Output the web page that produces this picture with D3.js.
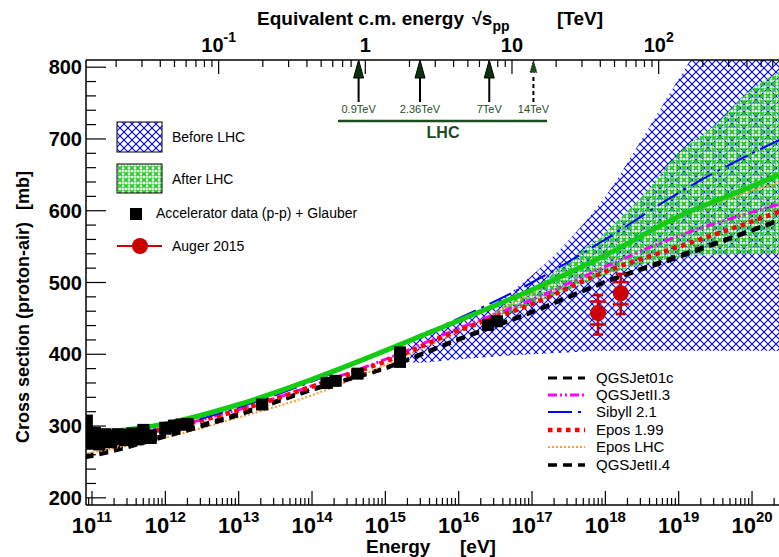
<!DOCTYPE html>
<html>
<head>
<meta charset="utf-8">
<script src="https://cdn.jsdelivr.net/npm/d3@7"></script>
<style>
  html, body { margin:0; padding:0; background:#fff; }
  text { font-family: "Liberation Sans", Arial, Helvetica, sans-serif; }
</style>
</head>
<body>
<div id="chart"></div>
<script>
// Proton-air cross section vs. energy (log10 E in eV)

// model curves on a grid of log10(E/eV)
const gridLogE   = [10.9, 11, 12, 13, 14, 15, 16, 17, 18, 19, 20, 20.4];
const qgsjet01c  = [259, 261, 288, 318, 352, 382, 422, 460, 502, 538, 574, 589];
const qgsjetII3  = [278, 280, 297, 323, 356, 393, 436, 476, 522, 565, 598, 610];
const sibyll21   = [283, 285, 298, 326, 362, 405, 450, 500, 560, 625, 680, 700];
const epos199    = [276, 278, 296, 322, 355, 390, 433, 470, 515, 550, 585, 600];
const eposLHC    = [261, 263, 284, 312, 343, 385, 432, 485, 540, 590, 628, 640];
const qgsjetII4  = [256, 258, 285, 315, 350, 380, 420, 458, 500, 535, 572, 587];
const greenFit   = [286, 288, 303, 330, 365, 405, 447, 490, 538, 592, 634, 652];

// uncertainty bands (log10 E, lower, upper)
const beforeLogE  = [15.3, 15.4, 16, 16.5, 17, 17.4, 18, 18.5, 19.16, 20.4];
const beforeLow   = [400, 388, 393, 397, 400, 402, 405, 405, 405, 405];
const beforeHigh  = [412, 425, 445, 472, 510, 548, 620, 700, 810, 990];
const afterLogE   = [16.3, 16.5, 17, 17.5, 18, 18.5, 19, 19.5, 20, 20.4];
const afterLow    = [445, 450, 470, 490, 510, 525, 535, 538, 540, 540];
const afterHigh   = [445, 460, 490, 530, 570, 620, 680, 720, 770, 795];

// accelerator data (p-p) + Glauber
const accLogE  = [10.93, 10.98, 11.04, 11.10, 11.18, 11.26, 11.35, 11.45, 11.55, 11.62, 11.70, 11.80,
                  12.00, 12.12, 12.22, 12.30, 13.32, 14.20, 14.32, 14.62, 15.20, 16.40, 16.52];
const accSigma = [292, 282, 285, 280, 284, 282, 285, 284, 287, 284, 292, 285,
                  297, 300, 302, 303, 330, 360, 363, 373, 396, 441, 446];
const accErr   = [24, 15, 14, 14, 13, 13, 12, 12, 11, 11, 11, 10,
                  9, 9, 8, 8, 7, 7, 7, 7, 15, 8, 7];

// Auger 2015
const augerLogE  = [17.9, 18.21];
const augerSigma = [457.5, 485];
const augerStat  = [16, 15.5];
const augerSysUp = [25, 27];
const augerSysDn = [30, 29];

// LHC energies (TeV)
const lhcEnergies = [0.9, 2.36, 7, 14];
const lhcLabels   = ['0.9TeV', '2.36TeV', '7TeV', '14TeV'];

// axis ticks
const yMajor      = [200, 300, 400, 500, 600, 700, 800];
const xMajorExp   = [11, 12, 13, 14, 15, 16, 17, 18, 19, 20];
const topMajor    = [0.1, 1, 10, 100];
const topLabels   = [['10', '-1'], ['1', ''], ['10', ''], ['10', '2']];

const models = [
  { name:'QGSJet01c',  vals:qgsjet01c, color:'#000000', w:3,   dash:'9,6' },
  { name:'Epos LHC',   vals:eposLHC,   color:'#ff9933', w:2,   dash:'2,2' },
  { name:'QGSJetII.4', vals:qgsjetII4, color:'#000000', w:3.5, dash:'9,6' },
  { name:'QGSJetII.3', vals:qgsjetII3, color:'#ff00ff', w:3,   dash:'9,3,2,3,2,3' },
  { name:'Epos 1.99',  vals:epos199,   color:'#ff0000', w:4.5, dash:'4.5,4.5' },
  { name:'Sibyll 2.1', vals:sibyll21,  color:'#0000ff', w:2,   dash:'24,6,3,6' },
  { name:'',           vals:greenFit,  color:'#11cc11', w:5,   dash:null }
];
const legendOrder = ['QGSJet01c', 'QGSJetII.3', 'Sibyll 2.1', 'Epos 1.99', 'Epos LHC', 'QGSJetII.4'];

(() => {
  const W = 779, H = 557;
  const L = 86, R = 781, T = 60, B = 505;

  const sqrtS = E => Math.sqrt(2 * 0.938e9 * E) / 1e12;   // TeV
  const eFromSqrtS = s => Math.pow(s * 1e12, 2) / (2 * 0.938e9);

  const x = d3.scaleLog().domain([10 ** 10.918, 10 ** 20.395]).range([L, R]);
  const y = d3.scaleLinear().domain([190, 810]).range([B, T]);
  const xTop = d3.scaleLog().domain(x.domain().map(sqrtS)).range([L, R]);

  const svg = d3.select('#chart').append('svg')
    .attr('width', W).attr('height', H);
  svg.append('rect').attr('width', W).attr('height', H).attr('fill', '#fff');

  const defs = svg.append('defs');
  defs.append('clipPath').attr('id', 'plot')
    .append('rect').attr('x', L).attr('y', T).attr('width', R - L).attr('height', B - T);

  const pb = defs.append('pattern').attr('id', 'hatchBlue')
    .attr('patternUnits', 'userSpaceOnUse').attr('width', 8).attr('height', 8);
  pb.append('path').attr('d', 'M0,0 L8,8 M8,0 L0,8')
    .attr('stroke', '#0000ff').attr('stroke-width', 1.1).attr('fill', 'none');

  // green speckled hatch: green crosses with white gaps
  const pg = defs.append('pattern').attr('id', 'hatchGreen')
    .attr('patternUnits', 'userSpaceOnUse').attr('width', 6).attr('height', 6);
  pg.append('path').attr('d', 'M0,0 L6,6 M6,0 L0,6')
    .attr('stroke', '#22cc22').attr('stroke-width', 1.8).attr('fill', 'none');
  pg.append('path').attr('d', 'M3,1.5 L3,4.5 M1.5,3 L4.5,3')
    .attr('stroke', '#fff').attr('stroke-width', 1).attr('fill', 'none');

  const plot = svg.append('g').attr('clip-path', 'url(#plot)');

  // bands
  const area = d3.area()
    .x(d => x(10 ** d[0])).y0(d => y(d[1])).y1(d => y(d[2]))
    .curve(d3.curveMonotoneX);
  plot.append('path')
    .datum(beforeLogE.map((e, i) => [e, beforeLow[i], beforeHigh[i]]))
    .attr('d', area).attr('fill', 'url(#hatchBlue)');
  plot.append('path')
    .datum(afterLogE.map((e, i) => [e, afterLow[i], afterHigh[i]]))
    .attr('d', area).attr('fill', 'url(#hatchGreen)');

  // model lines
  const line = d3.line()
    .x(d => x(10 ** d[0])).y(d => y(d[1]))
    .curve(d3.curveMonotoneX);
  models.forEach(m => {
    plot.append('path')
      .datum(gridLogE.map((e, i) => [e, m.vals[i]]))
      .attr('d', line)
      .attr('fill', 'none')
      .attr('stroke', m.color)
      .attr('stroke-width', m.w)
      .attr('stroke-dasharray', m.dash);
  });

  // accelerator data
  accLogE.forEach((e, i) => {
    const cx = x(10 ** e);
    plot.append('rect')
      .attr('x', cx - 6).attr('width', 12)
      .attr('y', y(accSigma[i] + accErr[i]))
      .attr('height', y(accSigma[i] - accErr[i]) - y(accSigma[i] + accErr[i]))
      .attr('fill', '#000');
    plot.append('rect')
      .attr('x', cx - 6).attr('y', y(accSigma[i]) - 6)
      .attr('width', 12).attr('height', 12).attr('fill', '#000');
  });

  // Auger
  const augerCol = '#cc0000';
  augerLogE.forEach((e, i) => {
    const cx = x(10 ** e), s = augerSigma[i];
    const g = plot.append('g').attr('stroke', augerCol).attr('stroke-width', 2.5);
    g.append('line').attr('x1', cx).attr('x2', cx)
      .attr('y1', y(s + augerSysUp[i])).attr('y2', y(s - augerSysDn[i]));
    [s + augerSysUp[i], s - augerSysDn[i]].forEach(v =>
      g.append('line').attr('x1', cx - 5).attr('x2', cx + 5).attr('y1', y(v)).attr('y2', y(v)));
    [s + augerStat[i], s - augerStat[i]].forEach(v =>
      g.append('line').attr('x1', cx - 8).attr('x2', cx + 8).attr('y1', y(v)).attr('y2', y(v)));
    plot.append('circle').attr('cx', cx).attr('cy', y(s)).attr('r', 8).attr('fill', augerCol);
  });

  // axes frame
  const ax = svg.append('g').attr('stroke', '#000').attr('stroke-width', 1.5);
  ax.append('line').attr('x1', L).attr('x2', R).attr('y1', B).attr('y2', B);
  ax.append('line').attr('x1', L).attr('x2', R).attr('y1', T).attr('y2', T);
  ax.append('line').attr('x1', L).attr('x2', L).attr('y1', T).attr('y2', B);

  // y ticks
  const yMinor = d3.range(200, 811, 20);
  yMinor.forEach(v => {
    const major = yMajor.includes(v);
    ax.append('line').attr('x1', L).attr('x2', L + (major ? 20 : 10))
      .attr('y1', y(v)).attr('y2', y(v)).attr('stroke-width', 1.2);
  });
  svg.append('g').selectAll('text').data(yMajor).join('text')
    .attr('x', 82).attr('y', d => y(d) + 7)
    .attr('text-anchor', 'end').attr('font-size', 20).attr('font-weight', 'bold')
    .text(d => d);

  // bottom ticks
  const [xd0, xd1] = x.domain();
  for (let p = 10; p <= 20; p++) {
    for (let k = 1; k <= 9; k++) {
      const v = k * 10 ** p;
      if (v < xd0 || v > xd1) continue;
      ax.append('line').attr('x1', x(v)).attr('x2', x(v))
        .attr('y1', B).attr('y2', B - (k === 1 ? 14 : 7)).attr('stroke-width', 1.2);
    }
  }
  const bl = svg.append('g').selectAll('text').data(xMajorExp).join('text')
    .attr('x', d => x(10 ** d)).attr('y', 533)
    .attr('text-anchor', 'middle').attr('font-weight', 'bold');
  bl.append('tspan').attr('font-size', 22).text('10');
  bl.append('tspan').attr('font-size', 15).attr('dy', -11).text(d => d);

  // top ticks
  const [td0, td1] = xTop.domain();
  for (let p = -2; p <= 3; p++) {
    for (let k = 1; k <= 9; k++) {
      const v = k * 10 ** p;
      if (v < td0 || v > td1) continue;
      ax.append('line').attr('x1', xTop(v)).attr('x2', xTop(v))
        .attr('y1', T).attr('y2', T + (k === 1 ? 14 : 7)).attr('stroke-width', 1.2);
    }
  }
  const tl = svg.append('g').selectAll('text').data(topMajor).join('text')
    .attr('x', d => xTop(d)).attr('y', 52)
    .attr('text-anchor', 'middle').attr('font-weight', 'bold');
  tl.append('tspan').attr('font-size', 20).text((d, i) => topLabels[i][0]);
  tl.append('tspan').attr('font-size', 14).attr('dy', -10).text((d, i) => topLabels[i][1]);

  // axis titles
  const tt = svg.append('text').attr('x', 257).attr('y', 25)
    .attr('font-size', 19).attr('font-weight', 'bold');
  tt.append('tspan').text('Equivalent c.m. energy');
  tt.append('tspan').attr('dx', 8).attr('font-size', 18).text('\u221A');
  tt.append('tspan').text('s');
  tt.append('tspan').attr('font-size', 14).attr('dy', 6).text('pp');
  tt.append('tspan').attr('x', 557).attr('y', 25).text('[TeV]');

  svg.append('text').attr('x', 366).attr('y', 553)
    .attr('font-size', 19).attr('font-weight', 'bold').text('Energy');
  svg.append('text').attr('x', 460).attr('y', 553)
    .attr('font-size', 19).attr('font-weight', 'bold').text('[eV]');

  const yt = svg.append('text')
    .attr('transform', 'translate(29,443) rotate(-90)')
    .attr('font-size', 18).attr('font-weight', 'bold');
  yt.append('tspan').text('Cross section (proton-air)');
  yt.append('tspan').attr('dx', 12).text('[mb]');

  // LHC arrows
  const lhcCol = '#1e4d1e';
  lhcEnergies.forEach((s, i) => {
    const ex = x(eFromSqrtS(s));
    const dashed = i === 3;
    svg.append('line').attr('x1', ex).attr('x2', ex).attr('y1', 102).attr('y2', 74)
      .attr('stroke', '#000').attr('stroke-width', 2)
      .attr('stroke-dasharray', dashed ? '4,3' : null);
    svg.append('path')
      .attr('d', `M${ex},60 L${ex - 5},78 L${ex + 5},78 Z`)
      .attr('fill', dashed ? '#1e4d1e' : '#0b330b').attr('stroke', '#000').attr('stroke-width', 1)
      .attr('stroke-dasharray', dashed ? '2,2' : null)
      .attr('transform', dashed ? `translate(${ex},60) scale(0.7) translate(${-ex},-60)` : null);
    svg.append('text').attr('x', ex).attr('y', 113)
      .attr('text-anchor', 'middle').attr('font-size', 11).attr('fill', lhcCol)
      .text(lhcLabels[i]);
  });
  svg.append('line').attr('x1', 338).attr('x2', 547).attr('y1', 121).attr('y2', 121)
    .attr('stroke', lhcCol).attr('stroke-width', 2.5);
  svg.append('text').attr('x', 443).attr('y', 138).attr('text-anchor', 'middle')
    .attr('font-size', 16).attr('font-weight', 'bold').attr('fill', lhcCol).text('LHC');

  // legend top-left
  const lg = svg.append('g').attr('font-size', 14);
  lg.append('rect').attr('x', 117).attr('y', 122).attr('width', 45).attr('height', 30)
    .attr('fill', 'url(#hatchBlue)').attr('stroke', '#000').attr('stroke-width', 1);
  lg.append('text').attr('x', 172).attr('y', 142).text('Before LHC');
  lg.append('rect').attr('x', 117).attr('y', 164).attr('width', 45).attr('height', 29)
    .attr('fill', 'url(#hatchGreen)').attr('stroke', '#000').attr('stroke-width', 1);
  lg.append('text').attr('x', 172).attr('y', 184).text('After LHC');
  lg.append('rect').attr('x', 130).attr('y', 208).attr('width', 12).attr('height', 12).attr('fill', '#000');
  lg.append('text').attr('x', 156).attr('y', 218).text('Accelerator data (p-p) + Glauber');
  lg.append('line').attr('x1', 117).attr('x2', 162).attr('y1', 246).attr('y2', 246)
    .attr('stroke', augerCol).attr('stroke-width', 2);
  lg.append('circle').attr('cx', 140).attr('cy', 246).attr('r', 8).attr('fill', augerCol);
  lg.append('text').attr('x', 172).attr('y', 251).text('Auger 2015');

  // legend bottom-right
  const legY = [378, 395, 412, 430, 447, 465];
  const lr = svg.append('g').attr('font-size', 15);
  legendOrder.forEach((name, i) => {
    const m = models.find(d => d.name === name);
    lr.append('line').attr('x1', 548).attr('x2', 585).attr('y1', legY[i]).attr('y2', legY[i])
      .attr('stroke', m.color).attr('stroke-width', m.w).attr('stroke-dasharray', m.dash);
    lr.append('text').attr('x', 596).attr('y', legY[i] + 5).text(name);
  });
})();
</script>
</body>
</html>
